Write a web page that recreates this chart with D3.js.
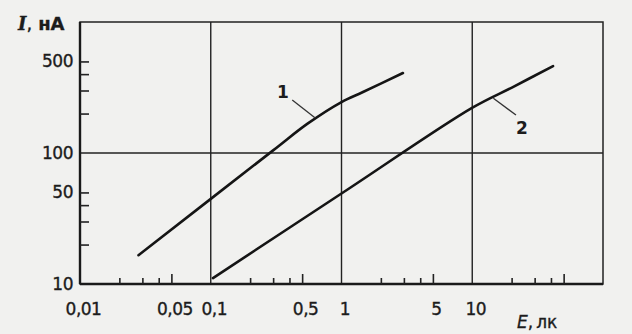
<!DOCTYPE html>
<html>
<head>
<meta charset="utf-8">
<script src="https://cdn.jsdelivr.net/npm/d3@7"></script>
<style>
  body { margin: 0; background: #f1f1ef; }
  svg { display: block; }
  text { font-family: "DejaVu Sans", "Liberation Sans", sans-serif; fill: #1c1c1c; }
</style>
</head>
<body>
<div id="chart"></div>
<script>
// curve data, E in lux, I in nA
var curve1E = [0.028, 0.3, 0.55, 1.0, 1.46, 2.95];
var curve1I = [16.6, 104.7, 167.5, 245, 292, 408];
var curve2E = [0.104, 1.02, 9.96, 20.1, 41.5];
var curve2I = [11.1, 49.7, 221, 316, 461];

// axis ticks
var xTickValues = [0.01, 0.05, 0.1, 0.5, 1, 5, 10];
var xTickLabels = ["0,01", "0,05", "0,1", "0,5", "1", "5", "10"];
var xMinor = [0.02, 0.03, 0.04, 0.05, 0.2, 0.3, 0.4, 0.5, 2, 3, 4, 5, 20, 30, 40, 50];
var yTickValues = [10, 50, 100, 500];
var yTickLabels = ["10", "50", "100", "500"];
var yMinor = [20, 30, 40, 50, 200, 300, 400, 500];
var gridX = [0.1, 1, 10];
var gridY = [100];

// curve labels: name, label position, leader start, leader end
var curveNames = ["1", "2"];
var labelE = [0.357, 24];
var labelI = [292, 155];
var leaderFromE = [0.42, 21.6], leaderFromI = [254, 195];
var leaderToE = [0.63, 14.5], leaderToI = [185, 262];

var width = 632, height = 334;
var svg = d3.select('#chart').append('svg').attr('width', width).attr('height', height);

var x = d3.scaleLog().domain([0.01, 100]).range([80, 603]);
var y = d3.scaleLog().domain([10, 1000]).range([284, 22]);

//grid lines
svg.selectAll('.gx').data(gridX).enter().append('line')
  .attr('x1', function(d){ return x(d); }).attr('x2', function(d){ return x(d); })
  .attr('y1', y(10)).attr('y2', y(1000))
  .attr('stroke', '#222').attr('stroke-width', 1.4);
svg.selectAll('.gy').data(gridY).enter().append('line')
  .attr('x1', x(0.01)).attr('x2', x(100))
  .attr('y1', function(d){ return y(d); }).attr('y2', function(d){ return y(d); })
  .attr('stroke', '#222').attr('stroke-width', 1.4);

//frame
svg.append('rect').attr('x', x(0.01)).attr('y', y(1000))
  .attr('width', x(100) - x(0.01)).attr('height', y(10) - y(1000))
  .attr('fill', 'none').attr('stroke', '#222').attr('stroke-width', 1.5);
svg.append('line').attr('x1', x(0.01)).attr('x2', x(100)).attr('y1', y(10)).attr('y2', y(10))
  .attr('stroke', '#1a1a1a').attr('stroke-width', 2.4);
svg.append('line').attr('x1', x(0.01)).attr('x2', x(0.01)).attr('y1', y(10)).attr('y2', y(1000))
  .attr('stroke', '#1a1a1a').attr('stroke-width', 2.4);

//minor ticks pointing inside
var xMinorAxis = svg.append('g').attr('transform', 'translate(0,' + y(10) + ')')
  .call(d3.axisBottom(x).tickValues(xMinor).tickSizeInner(-6).tickSizeOuter(0).tickFormat(''));
xMinorAxis.selectAll('.tick line')
  .attr('y2', function(d){ return String(d).indexOf('5') >= 0 ? -10 : -6; })
  .attr('stroke', '#222').attr('stroke-width', 1.6);
var yMinorAxis = svg.append('g').attr('transform', 'translate(' + x(0.01) + ',0)')
  .call(d3.axisLeft(y).tickValues(yMinor).tickSizeInner(-9).tickSizeOuter(0).tickFormat(''));
yMinorAxis.selectAll('.tick line').attr('stroke', '#222').attr('stroke-width', 1.6);
svg.selectAll('.domain').remove();

//tick labels
var xLab = svg.append('g').attr('transform', 'translate(3,' + y(10) + ')')
  .call(d3.axisBottom(x).tickValues(xTickValues).tickSize(0).tickPadding(19)
    .tickFormat(function(d, i){ return xTickLabels[i]; }));
xLab.select('.domain').remove();
xLab.selectAll('text').attr('font-size', 17).attr('font-family', null).style('fill', '#1c1c1c')
  .attr('stroke', '#1c1c1c').attr('stroke-width', 0.35).attr('letter-spacing', -0.5);

var yLab = svg.append('g').attr('transform', 'translate(' + (x(0.01) - 7) + ',0)')
  .call(d3.axisLeft(y).tickValues(yTickValues).tickSize(0).tickPadding(0)
    .tickFormat(function(d, i){ return yTickLabels[i]; }));
yLab.select('.domain').remove();
yLab.selectAll('text').attr('font-size', 17).attr('font-family', null).style('fill', '#1c1c1c')
  .attr('stroke', '#1c1c1c').attr('stroke-width', 0.35).attr('letter-spacing', -0.5);

//axis titles
var yTitle = svg.append('text').attr('x', 18).attr('y', 30).attr('font-size', 18)
  .attr('stroke', '#1c1c1c').attr('stroke-width', 0.35);
yTitle.append('tspan').attr('font-family', '"DejaVu Serif", serif').attr('font-style', 'italic')
  .attr('font-weight', 'bold').text('I');
yTitle.append('tspan').text(',');
yTitle.append('tspan').attr('dx', 6).attr('font-weight', 'bold').text('нА');
var xTitle = svg.append('text').attr('x', 517).attr('y', 328).attr('font-size', 17)
  .attr('stroke', '#1c1c1c').attr('stroke-width', 0.35);
xTitle.append('tspan').attr('font-style', 'italic').text('E');
xTitle.append('tspan').text(',');
xTitle.append('tspan').attr('dx', 3).text('лк');

//curves
var line = d3.line()
  .x(function(d){ return x(d[0]); })
  .y(function(d){ return y(d[1]); })
  .curve(d3.curveCatmullRom.alpha(0.5));
var curves = [d3.zip(curve1E, curve1I), d3.zip(curve2E, curve2I)];
svg.selectAll('.curve').data(curves).enter().append('path').attr('class', 'curve')
  .attr('d', line).attr('fill', 'none').attr('stroke', '#151515').attr('stroke-width', 2.6)
  .attr('stroke-linecap', 'round');

//curve labels and leaders
svg.selectAll('.leader').data(curveNames).enter().append('line')
  .attr('x1', function(d, i){ return x(leaderFromE[i]); })
  .attr('y1', function(d, i){ return y(leaderFromI[i]); })
  .attr('x2', function(d, i){ return x(leaderToE[i]); })
  .attr('y2', function(d, i){ return y(leaderToI[i]); })
  .attr('stroke', '#333').attr('stroke-width', 1.3);
svg.selectAll('.clabel').data(curveNames).enter().append('text')
  .attr('x', function(d, i){ return x(labelE[i]); })
  .attr('y', function(d, i){ return y(labelI[i]); })
  .attr('dy', '0.35em').attr('text-anchor', 'middle').attr('font-size', 17)
  .attr('font-weight', 'bold').text(function(d){ return d; });
</script>
</body>
</html>
